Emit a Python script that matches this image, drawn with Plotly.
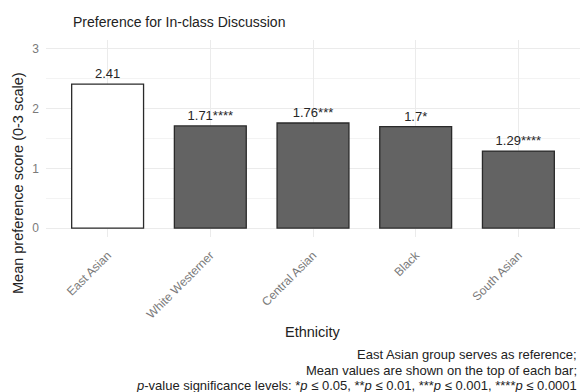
import plotly.graph_objects as go

# Mean preference score per ethnic group (0-3 scale)
ethnicities = ["East Asian", "White Westerner", "Central Asian", "Black", "South Asian"]
means = [2.41, 1.71, 1.76, 1.7, 1.29]
significance = ["", "****", "***", "*", "****"]
bar_colors = ["#ffffff", "#636363", "#636363", "#636363", "#636363"]

caption_lines = [
    "East Asian group serves as reference;",
    "Mean values are shown on the top of each bar;",
    "<i>p</i>-value significance levels: *<i>p</i> ≤ 0.05, **<i>p</i> ≤ 0.01, "
    "***<i>p</i> ≤ 0.001, ****<i>p</i> ≤ 0.0001",
]

labels = [f"{m:g}{s}" for m, s in zip(means, significance)]

FONT = "Liberation Sans, Arial"

# plot area in pixels: x 46..580, y 40..237
PLOT_L, PLOT_R, PLOT_T, PLOT_B = 46, 580, 40, 237
PH = PLOT_B - PLOT_T
PW = PLOT_R - PLOT_L


def py(pix):
    return (PLOT_B - pix) / PH


def px(pix):
    return (pix - PLOT_L) / PW


fig = go.Figure(
    go.Bar(
        x=ethnicities,
        y=means,
        width=0.7,
        marker=dict(color=bar_colors, line=dict(color="#2a2a2a", width=1.3)),
        text=labels,
        textposition="outside",
        textfont=dict(family=FONT, size=13, color="#262626"),
        cliponaxis=False,
        hoverinfo="x+y",
    )
)

annotations = [
    dict(
        text="Mean preference score (0-3 scale)",
        xref="paper", yref="paper", x=px(18), y=py(183),
        xanchor="center", yanchor="middle", textangle=-90,
        showarrow=False, font=dict(size=14.5, color="#222"),
    ),
    dict(
        text="Ethnicity",
        xref="paper", yref="paper", x=0.5, y=py(332),
        xanchor="center", yanchor="middle",
        showarrow=False, font=dict(size=14.5, color="#222"),
    ),
]
for line, ycen in zip(caption_lines, [354, 370, 385]):
    annotations.append(dict(
        text=line, xref="paper", yref="paper",
        x=px(579), y=py(ycen), xanchor="right", yanchor="middle",
        showarrow=False, font=dict(size=13, color="#222"),
    ))

fig.update_layout(
    width=581,
    height=392,
    margin=dict(l=PLOT_L, r=581 - PLOT_R, t=PLOT_T, b=392 - PLOT_B),
    paper_bgcolor="white",
    plot_bgcolor="white",
    font=dict(family=FONT, color="#222"),
    showlegend=False,
    title=dict(
        text="Preference for In-class Discussion",
        x=73 / 581, xanchor="left", y=1 - 22 / 392, yanchor="middle",
        font=dict(size=14, color="#222"),
    ),
    xaxis=dict(
        range=[-0.6, 4.6],
        tickangle=-45,
        tickfont=dict(size=12, color="#7a7a7a"),
        ticklabelstandoff=8,
        showgrid=True, gridcolor="#ebebeb", gridwidth=1,
        zeroline=False, showline=False, ticks="",
    ),
    yaxis=dict(
        range=[-0.15, 3.15],
        tickvals=[0, 1, 2, 3],
        tickfont=dict(size=12, color="#7a7a7a"),
        showgrid=True, gridcolor="#ebebeb", gridwidth=1,
        minor=dict(tickvals=[0.5, 1.5, 2.5], showgrid=True, gridcolor="#f3f3f3", gridwidth=1),
        zeroline=False, showline=False, ticks="",
        ticklabelstandoff=6,
    ),
    annotations=annotations,
)

fig.write_html("out.html")
